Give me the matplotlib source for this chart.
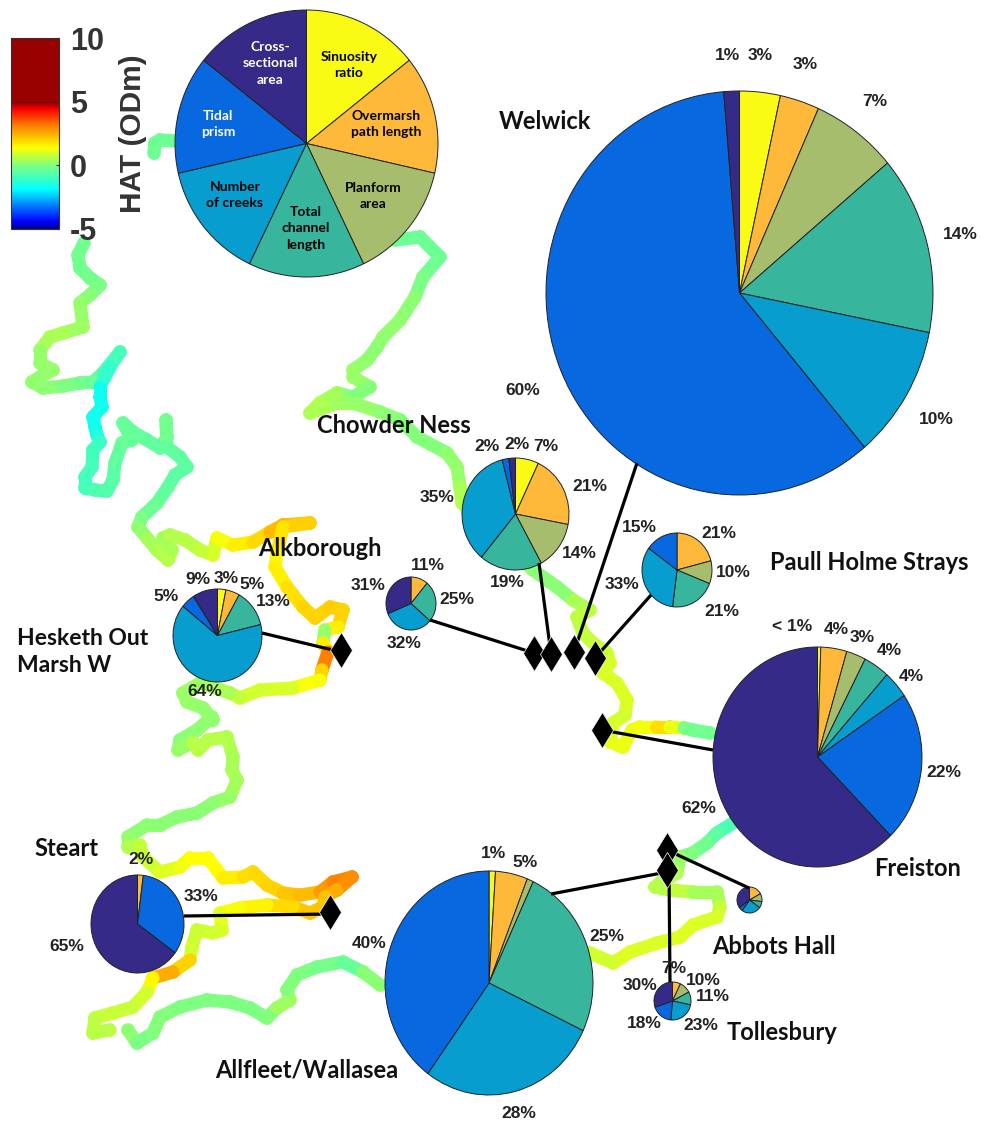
import matplotlib
matplotlib.use("Agg")
import matplotlib.pyplot as plt
import numpy as np
from matplotlib.cm import ScalarMappable
from matplotlib.collections import LineCollection
from matplotlib.colors import LinearSegmentedColormap, Normalize

plt.rcParams["axes.unicode_minus"] = False

W, H = 985, 1122

# order: sinuosity, overmarsh, planform, channel length, creeks, prism, cross-section
part_colors = ["#F9FB15", "#FEB93B", "#A6BD6E", "#38B59D", "#079ECF", "#0868E0", "#352A87"]
key_vals = [1, 1, 1, 1, 1, 1, 1]
welwick = [3.4, 3.3, 7.2, 14.3, 10.7, 60, 1.3]
chowder = [7, 21, 14, 19, 35, 2, 2]
paull = [0, 21, 10, 21, 33, 15, 0]
unnamed = [0, 11, 0, 25, 32, 0, 31]
hesketh = [3, 5, 0, 13, 64, 5, 9]
freiston = [0.5, 4, 3, 4, 4, 22, 62]
steart = [0, 2, 0, 0, 0, 33, 65]
allfleet = [1, 5, 1, 25, 28, 40, 0]
abbots = [0, 17, 10, 8, 25, 5, 35]
tollesbury = [0, 7, 10, 11, 23, 18, 30]

# coast track, pixel position and HAT at each point
nw_x = [84, 78, 80, 90, 100, 90, 80, 83, 63, 50, 40, 40, 53, 43, 32, 43, 63, 80, 93, 103, 120, 110, 100, 100, 102, 93, 95, 97, 100, 93, 92, 85, 85, 95, 107, 113, 115, 122, 132, 123, 133, 147, 160, 167, 166, 167, 180, 187, 175, 168, 157, 142, 138, 147, 157, 168, 172, 163, 170, 185, 200, 213, 217, 233, 253, 270, 283, 310, 283, 277, 275, 287, 303, 315, 330, 343, 338, 325, 323, 328, 322, 320, 293, 260, 240, 230, 200, 183, 187, 203, 213]
nw_y = [243, 255, 268, 278, 285, 295, 303, 327, 333, 337, 350, 363, 370, 375, 382, 388, 386, 383, 382, 373, 352, 367, 387, 397, 407, 417, 427, 435, 442, 450, 467, 477, 488, 490, 491, 480, 463, 443, 440, 423, 432, 440, 448, 437, 420, 447, 457, 467, 475, 487, 503, 517, 527, 538, 550, 560, 550, 538, 535, 540, 550, 555, 538, 545, 542, 532, 525, 523, 527, 553, 567, 587, 607, 618, 607, 610, 627, 630, 643, 652, 670, 680, 688, 690, 698, 693, 683, 693, 702, 708, 720]
nw_hat = [-.2, -.2, -.2, -.2, -.1, 0, .2, .3, .4, .6, .3, .2, .3, .2, .2, .2, .1, -.1, -.3, -.5, -1, -.7, -1.6, -1.7, -1.7, -1.6, -1.7, -1.6, -1.2, -.9, -.9, -.8, -.9, -.8, -.7, -.6, -.5, -.4, -.4, -.4, -.4, -.4, -.5, -.4, 0, -.4, -.5, -.5, -.5, -.5, -.4, -.2, .1, .3, .5, .6, .6, .3, .5, .6, .7, .8, 1.1, 1.5, 1.8, 2, 2.7, 2.1, 2, 1.5, 1.5, 1.7, 1.9, 2, 2, 2.1, 1.9, 1.3, -.8, 4, 2.2, 1.7, 1, .9, .9, .6, .4, .3, .3, .2, .2]

south_x = [213, 212, 197, 180, 178, 193, 198, 208, 227, 233, 232, 237, 230, 213, 197, 177, 160, 147, 128, 128, 140, 143, 160, 180, 190, 208, 217, 223, 243, 253, 267, 283, 300, 320, 333, 352, 337, 325, 323, 310, 293, 267, 240, 220, 222, 213, 197, 192, 190, 173, 153, 147, 133, 113, 95, 93, 110]
south_y = [720, 717, 730, 740, 750, 742, 750, 740, 737, 757, 770, 780, 797, 803, 813, 817, 825, 825, 837, 847, 845, 857, 872, 867, 858, 858, 870, 878, 877, 872, 885, 893, 895, 892, 882, 877, 890, 897, 907, 913, 907, 905, 908, 913, 930, 933, 930, 947, 960, 972, 978, 992, 1007, 1013, 1018, 1033, 1030]
south_hat = [.2, .2, .2, .1, .1, .5, .7, .6, .6, .5, .4, .5, .3, .2, .1, .1, .1, .1, .2, .3, .8, .7, 1, 1.1, 1.4, 1.4, 1.4, 1.5, 1.8, 1.9, 1.9, 2.1, 2.2, 2.4, 3.1, 3, 2.8, 2.2, 2.2, 2.2, 2.1, 1.7, 1.4, 1.2, 1, .9, .9, .8, 1, 3, 2, 1, .8, .8, .8, .6, .7]

wash_x = [128, 137, 153, 160, 180, 207, 230, 250, 267, 277, 290, 287, 297, 317, 343, 363, 380]
wash_y = [1030, 1043, 1033, 1017, 1007, 1000, 1002, 1008, 1018, 1008, 1000, 990, 975, 967, 962, 972, 985]
wash_hat = [.4, -.1, 0, .1, 0, 0, 0, 0, 0, .1, .6, .1, 0, 0, -.3, -.5, .7]

mid_x = [395, 420, 440, 423, 415, 400, 383, 377, 367, 353, 353, 370, 353, 337, 320, 310, 337, 353, 380, 400, 417, 447, 457, 460, 462, 533, 557, 573, 590, 577, 583, 593, 607, 610, 603, 617, 627, 625, 613, 610, 623, 632, 640, 656, 670, 684, 693, 710]
mid_y = [240, 237, 257, 277, 297, 320, 337, 347, 360, 370, 377, 387, 397, 393, 403, 413, 403, 403, 412, 420, 437, 453, 467, 487, 503, 570, 587, 600, 610, 617, 633, 643, 653, 663, 673, 683, 700, 715, 723, 742, 747, 730, 727, 727, 727, 728, 730, 733]
mid_hat = [-.3, -.3, -.3, -.2, .1, .2, .2, .2, .1, .3, .3, .3, -.2, .3, .5, .6, .4, .3, .2, .1, 0, .1, .3, .2, .8, .3, -.1, .3, .7, .7, .7, .8, .8, .9, 1, 1, 1, 1, .8, 1.1, 1.2, 1.2, 1.2, 1.3, 2.4, 0, -.1, -.3]

south_east_x = [733, 717, 707, 693, 680, 677, 660, 655, 670, 693, 717, 720, 717, 693, 680, 657, 630, 613, 590]
south_east_y = [823, 833, 843, 853, 857, 873, 883, 887, 890, 892, 892, 907, 917, 925, 937, 943, 952, 963, 953]
south_east_hat = [-.9, -.7, -.3, -.1, .1, .5, .6, .5, .7, .7, .1, .8, .9, 1, 1.1, 1, 1, 1.1, .7]

top_frag_x = [176, 160, 155, 154]
top_frag_y = [141, 140, 143, 153]
top_frag_hat = [-.3, -.3, -.3, -.3]

tracks = [(top_frag_x, top_frag_y, top_frag_hat), (nw_x, nw_y, nw_hat), (south_x, south_y, south_hat),
          (wash_x, wash_y, wash_hat), (mid_x, mid_y, mid_hat), (south_east_x, south_east_y, south_east_hat)]

diamond_x = [341, 534, 551, 574, 595, 602, 667, 667, 330]
diamond_y = [650, 653, 654, 652, 658, 730, 850, 870, 912]

leader_from = [(262, 633), (430, 620), (539, 563), (637, 463), (651, 595), (713, 750), (184, 916), (551, 894), (670, 982), (749, 888)]
leader_to = [(341, 652), (534, 653), (551, 654), (574, 652), (595, 658), (602, 730), (330, 914), (667, 872), (669, 870), (667, 850)]

site_names = [("Welwick", 545, 121), ("Chowder Ness", 394, 425), ("Alkborough", 320, 548),
              ("Paull Holme Strays", 869, 562), ("Steart", 66, 848), ("Freiston", 918, 868),
              ("Abbots Hall", 774, 946), ("Tollesbury", 782, 1032), ("Allfleet/Wallasea", 307, 1070)]

pct_labels = [("1%", 727, 55), ("3%", 760, 55), ("3%", 805, 64), ("7%", 875, 101), ("14%", 960, 234), ("10%", 936, 419), ("60%", 523, 390),
              ("2%", 487, 446), ("2%", 517, 444), ("7%", 546, 446), ("21%", 590, 486), ("14%", 579, 553), ("19%", 507, 582), ("35%", 437, 497),
              ("21%", 719, 533), ("10%", 733, 572), ("21%", 722, 611), ("33%", 622, 584), ("15%", 639, 527),
              ("11%", 428, 565), ("25%", 457, 599), ("32%", 404, 643), ("31%", 368, 585),
              ("9%", 198, 579), ("3%", 226, 578), ("5%", 252, 584), ("13%", 273, 601), ("5%", 166, 596), ("64%", 205, 691),
              ("2%", 141, 859), ("33%", 201, 896), ("65%", 67, 946),
              ("1%", 493, 853), ("5%", 525, 862), ("25%", 607, 936), ("28%", 519, 1113), ("40%", 369, 943),
              ("< 1%", 792, 626), ("4%", 836, 629), ("3%", 862, 637), ("4%", 889, 650), ("4%", 911, 676), ("22%", 944, 772), ("62%", 699, 808),
              ("7%", 674, 968), ("10%", 703, 980), ("11%", 713, 996), ("30%", 640, 985), ("18%", 644, 1024), ("23%", 701, 1025)]

key_labels = [("Sinuosity\nratio", 349, 65, "black"), ("Overmarsh\npath length", 386, 124, "black"), ("Planform\narea", 373, 196, "black"),
              ("Total\nchannel\nlength", 306, 228, "black"), ("Number\nof creeks", 235, 195, "black"),
              ("Tidal\nprism", 218, 124, "white"), ("Cross-\nsectional\narea", 270, 63, "white")]

cbar_ticks = [-5, 0, 5, 10]
hat_stops = [-5, -4.4, -1.9, 0, 1.4, 3.1, 4.4, 5, 5.01, 10]
hat_colors = ["#00008f", "#0000ff", "#00ffff", "#80ff80", "#ffff00", "#ff8000", "#ff0000", "#800000", "#990000", "#990000"]

hat_norm = Normalize(-5, 10)
hat_cmap = LinearSegmentedColormap.from_list("hat", [(hat_norm(v), c) for v, c in zip(hat_stops, hat_colors)], N=512)


def box(left, top, right, bottom):
    return [left / W, 1 - bottom / H, (right - left) / W, (bottom - top) / H]


def add_pie(values, left, top, right, bottom):
    ax = fig.add_axes(box(left, top, right, bottom), zorder=2)
    shown = [(v, c) for v, c in zip(values, part_colors) if v > 0]
    ax.pie([s[0] for s in shown], colors=[s[1] for s in shown], startangle=90, counterclock=False,
           radius=1, wedgeprops={"edgecolor": "#222222", "linewidth": 0.7, "clip_on": False})
    ax.set_xlim(-1, 1)
    ax.set_ylim(-1, 1)
    ax.set_aspect("auto")
    return ax


fig = plt.figure(figsize=(W / 100, H / 100), dpi=100)

map_ax = fig.add_axes([0, 0, 1, 1], zorder=1)
map_ax.set_xlim(0, W)
map_ax.set_ylim(H, 0)
map_ax.axis("off")
for xs, ys, hats in tracks:
    pts = np.column_stack([xs, ys])
    segs = np.stack([pts[:-1], pts[1:]], axis=1)
    seg_hat = (np.array(hats[:-1]) + np.array(hats[1:])) / 2
    lc = LineCollection(segs, cmap=hat_cmap, norm=hat_norm, linewidths=9.5, capstyle="round", joinstyle="round")
    lc.set_array(seg_hat)
    map_ax.add_collection(lc)
    # blobs at each point, the track is beaded in the original
    map_ax.scatter(xs, ys, c=hats, cmap=hat_cmap, norm=hat_norm, s=95, linewidths=0)

add_pie(key_vals, 175, 10, 438, 277)
add_pie(welwick, 546, 91, 933, 495)
add_pie(chowder, 462, 458, 569, 570)
add_pie(paull, 642, 533, 712, 607)
add_pie(unnamed, 386, 577, 436, 630)
add_pie(hesketh, 173, 589, 262, 682)
add_pie(freiston, 713, 647, 922, 867)
add_pie(steart, 91, 875, 184, 973)
add_pie(allfleet, 385, 871, 593, 1095)
add_pie(abbots, 737, 887, 762, 913)
add_pie(tollesbury, 654, 982, 691, 1020)

top_ax = fig.add_axes([0, 0, 1, 1], zorder=3)
top_ax.set_xlim(0, W)
top_ax.set_ylim(H, 0)
top_ax.axis("off")

for a, b in zip(leader_from, leader_to):
    top_ax.plot([a[0], b[0]], [a[1], b[1]], color="black", lw=2.3, solid_capstyle="butt")
top_ax.plot(diamond_x, diamond_y, ls="none", marker="d", ms=18.5, color="black", mec="white", mew=0.5)

for txt, x, y in site_names:
    top_ax.text(x, y, txt, ha="center", va="center", family="Lato", weight="bold", fontsize=17, color="#111111")
top_ax.text(17, 652, "Hesketh Out\nMarsh W", ha="left", va="center", family="Lato", weight="bold",
            fontsize=16.5, color="#111111", linespacing=1.4)

for txt, x, y in pct_labels:
    top_ax.text(x, y, txt, ha="center", va="center", family="Liberation Sans", weight="bold", fontsize=12.5, color="#222222")

for txt, x, y, col in key_labels:
    top_ax.text(x, y, txt, ha="center", va="center", family="Lato", weight="bold", fontsize=10, color=col, linespacing=1.45)

cax = fig.add_axes(box(11, 38, 59, 229), zorder=3)
cbar = fig.colorbar(ScalarMappable(hat_norm, hat_cmap), cax=cax, ticks=cbar_ticks)
cbar.outline.set_edgecolor("#333333")
cbar.ax.tick_params(direction="in", length=2, width=0.8, color="#333333", labelsize=22, labelcolor="#333333", pad=8)
for lab in cbar.ax.get_yticklabels():
    lab.set_family("Liberation Sans")
    lab.set_weight("bold")
cbar.set_label("HAT (ODm)", family="Liberation Sans", weight="bold", fontsize=21.5, color="#333333", labelpad=11)

fig.savefig("out.png", dpi=100)
